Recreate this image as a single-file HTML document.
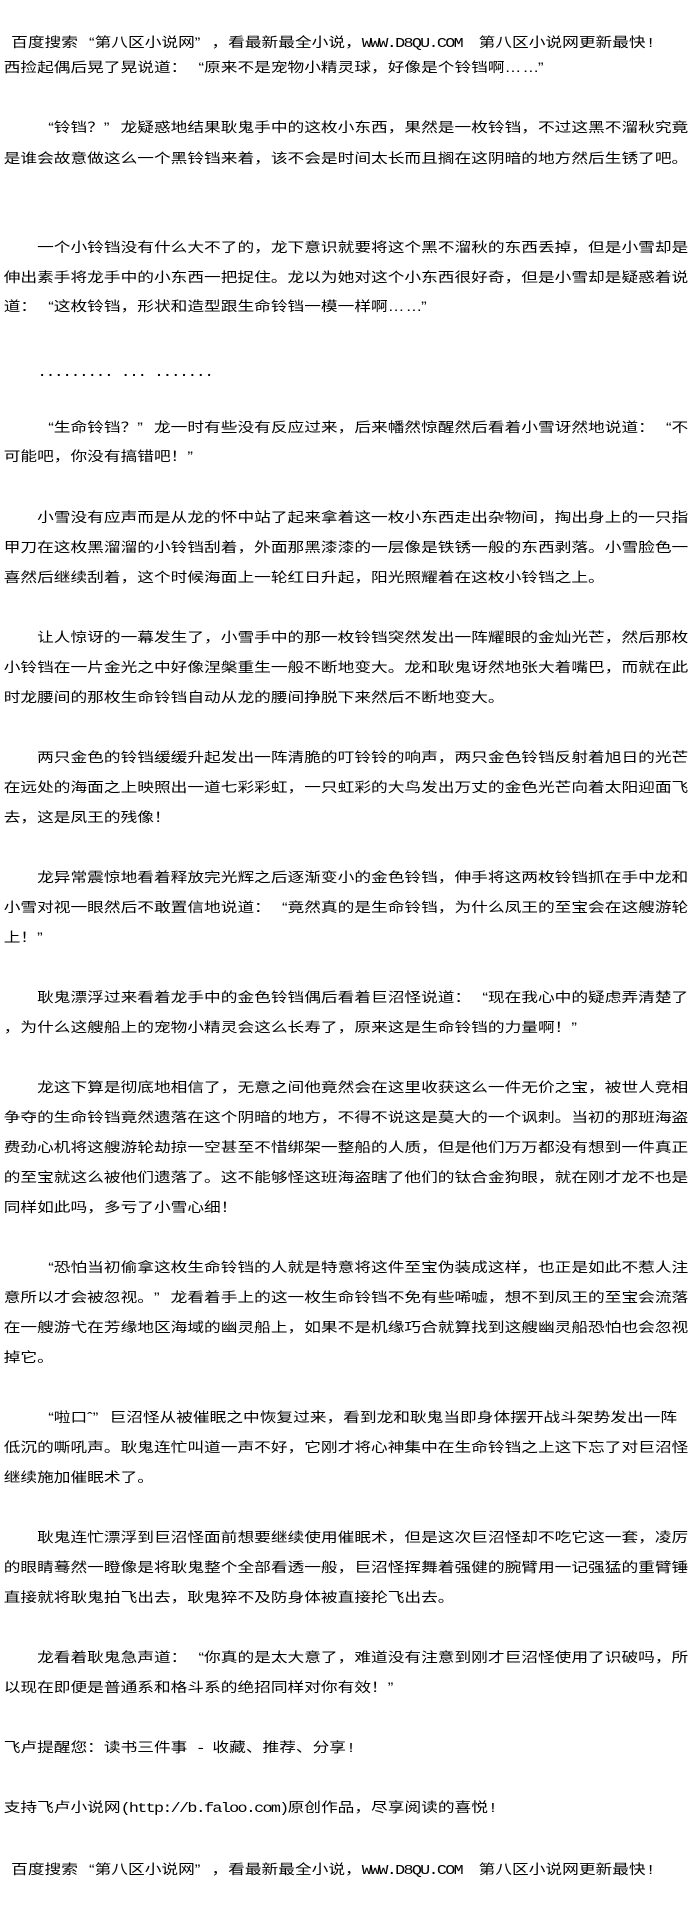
<!DOCTYPE html>
<html><head><meta charset="utf-8">
<style>
html,body{margin:0;padding:0;background:#fff;}
body{width:700px;height:1910px;overflow:hidden;position:relative;}
#w{position:absolute;left:0;top:0;width:566px;height:1910px;transform:scaleX(1.2367);transform-origin:0 0;}
#w div{position:absolute;height:30px;line-height:30px;white-space:nowrap;font-size:13.5px;color:#000;
font-family:"Liberation Sans","Noto Sans CJK SC","WenQuanYi Zen Hei",sans-serif;left:3px;}
#w div.i{left:30px;}
#w div.h{left:9px;}
.o{display:inline-block;width:1em;text-align:right;}
.c{display:inline-block;width:1em;text-align:left;}
.m{font-family:"Liberation Mono",monospace;font-size:13.5px;letter-spacing:-1.35px;}
.e{display:inline-block;width:2em;text-align:left;letter-spacing:1px;}
</style></head><body><div id="w">
<div class="h" style="top:28px">百度搜索<span class="o">“</span>第八区小说网<span class="c">”</span>，看最新最全小说，<span class="m">WWW.D8QU.COM&nbsp;&nbsp;</span>第八区小说网更新最快<span class="m">!</span></div>
<div style="top:53px">西捡起偶后晃了晃说道：<span class="o">“</span>原来不是宠物小精灵球，好像是个铃铛啊<span class="e">……</span><span class="c">”</span></div>
<div class="i" style="top:113px"><span class="o">“</span>铃铛？<span class="c">”</span>龙疑惑地结果耿鬼手中的这枚小东西，果然是一枚铃铛，不过这黑不溜秋究竟</div>
<div style="top:144px">是谁会故意做这么一个黑铃铛来着，该不会是时间太长而且搁在这阴暗的地方然后生锈了吧。</div>
<div class="i" style="top:233px">一个小铃铛没有什么大不了的，龙下意识就要将这个黑不溜秋的东西丢掉，但是小雪却是</div>
<div style="top:263px">伸出素手将龙手中的小东西一把捉住。龙以为她对这个小东西很好奇，但是小雪却是疑惑着说</div>
<div style="top:292px">道：<span class="o">“</span>这枚铃铛，形状和造型跟生命铃铛一模一样啊<span class="e">……</span><span class="c">”</span></div>
<div class="i" style="top:357px"><span class="m">......... ... .......</span></div>
<div class="i" style="top:413px"><span class="o">“</span>生命铃铛？<span class="c">”</span>龙一时有些没有反应过来，后来幡然惊醒然后看着小雪讶然地说道：<span class="o">“</span>不</div>
<div style="top:442px">可能吧，你没有搞错吧！<span class="c">”</span></div>
<div class="i" style="top:503px">小雪没有应声而是从龙的怀中站了起来拿着这一枚小东西走出杂物间，掏出身上的一只指</div>
<div style="top:533px">甲刀在这枚黑溜溜的小铃铛刮着，外面那黑漆漆的一层像是铁锈一般的东西剥落。小雪脸色一</div>
<div style="top:563px">喜然后继续刮着，这个时候海面上一轮红日升起，阳光照耀着在这枚小铃铛之上。</div>
<div class="i" style="top:623px">让人惊讶的一幕发生了，小雪手中的那一枚铃铛突然发出一阵耀眼的金灿光芒，然后那枚</div>
<div style="top:653px">小铃铛在一片金光之中好像涅槃重生一般不断地变大。龙和耿鬼讶然地张大着嘴巴，而就在此</div>
<div style="top:683px">时龙腰间的那枚生命铃铛自动从龙的腰间挣脱下来然后不断地变大。</div>
<div class="i" style="top:743px">两只金色的铃铛缓缓升起发出一阵清脆的叮铃铃的响声，两只金色铃铛反射着旭日的光芒</div>
<div style="top:773px">在远处的海面之上映照出一道七彩彩虹，一只虹彩的大鸟发出万丈的金色光芒向着太阳迎面飞</div>
<div style="top:803px">去，这是凤王的残像！</div>
<div class="i" style="top:863px">龙异常震惊地看着释放完光辉之后逐渐变小的金色铃铛，伸手将这两枚铃铛抓在手中龙和</div>
<div style="top:893px">小雪对视一眼然后不敢置信地说道：<span class="o">“</span>竟然真的是生命铃铛，为什么凤王的至宝会在这艘游轮</div>
<div style="top:923px">上！<span class="c">”</span></div>
<div class="i" style="top:983px">耿鬼漂浮过来看着龙手中的金色铃铛偶后看着巨沼怪说道：<span class="o">“</span>现在我心中的疑虑弄清楚了</div>
<div style="top:1013px">，为什么这艘船上的宠物小精灵会这么长寿了，原来这是生命铃铛的力量啊！<span class="c">”</span></div>
<div class="i" style="top:1073px">龙这下算是彻底地相信了，无意之间他竟然会在这里收获这么一件无价之宝，被世人竞相</div>
<div style="top:1103px">争夺的生命铃铛竟然遗落在这个阴暗的地方，不得不说这是莫大的一个讽刺。当初的那班海盗</div>
<div style="top:1133px">费劲心机将这艘游轮劫掠一空甚至不惜绑架一整船的人质，但是他们万万都没有想到一件真正</div>
<div style="top:1163px">的至宝就这么被他们遗落了。这不能够怪这班海盗瞎了他们的钛合金狗眼，就在刚才龙不也是</div>
<div style="top:1193px">同样如此吗，多亏了小雪心细！</div>
<div class="i" style="top:1253px"><span class="o">“</span>恐怕当初偷拿这枚生命铃铛的人就是特意将这件至宝伪装成这样，也正是如此不惹人注</div>
<div style="top:1283px">意所以才会被忽视。<span class="c">”</span>龙看着手上的这一枚生命铃铛不免有些唏嘘，想不到凤王的至宝会流落</div>
<div style="top:1313px">在一艘游弋在芳缘地区海域的幽灵船上，如果不是机缘巧合就算找到这艘幽灵船恐怕也会忽视</div>
<div style="top:1343px">掉它。</div>
<div class="i" style="top:1403px"><span class="o">“</span>啦口ˆ<span class="c">”</span>巨沼怪从被催眠之中恢复过来，看到龙和耿鬼当即身体摆开战斗架势发出一阵</div>
<div style="top:1433px">低沉的嘶吼声。耿鬼连忙叫道一声不好，它刚才将心神集中在生命铃铛之上这下忘了对巨沼怪</div>
<div style="top:1463px">继续施加催眠术了。</div>
<div class="i" style="top:1523px">耿鬼连忙漂浮到巨沼怪面前想要继续使用催眠术，但是这次巨沼怪却不吃它这一套，凌厉</div>
<div style="top:1553px">的眼睛蓦然一瞪像是将耿鬼整个全部看透一般，巨沼怪挥舞着强健的腕臂用一记强猛的重臂锤</div>
<div style="top:1583px">直接就将耿鬼拍飞出去，耿鬼猝不及防身体被直接抡飞出去。</div>
<div class="i" style="top:1643px">龙看着耿鬼急声道：<span class="o">“</span>你真的是太大意了，难道没有注意到刚才巨沼怪使用了识破吗，所</div>
<div style="top:1673px">以现在即便是普通系和格斗系的绝招同样对你有效！<span class="c">”</span></div>
<div style="top:1733px">飞卢提醒您：读书三件事<span class="m"> - </span>收藏、推荐、分享<span class="m">!</span></div>
<div style="top:1793px">支持飞卢小说网<span class="m">(http://b.faloo.com)</span>原创作品，尽享阅读的喜悦<span class="m">!</span></div>
<div class="h" style="top:1855px">百度搜索<span class="o">“</span>第八区小说网<span class="c">”</span>，看最新最全小说，<span class="m">WWW.D8QU.COM&nbsp;&nbsp;</span>第八区小说网更新最快<span class="m">!</span></div>
</div></body></html>
